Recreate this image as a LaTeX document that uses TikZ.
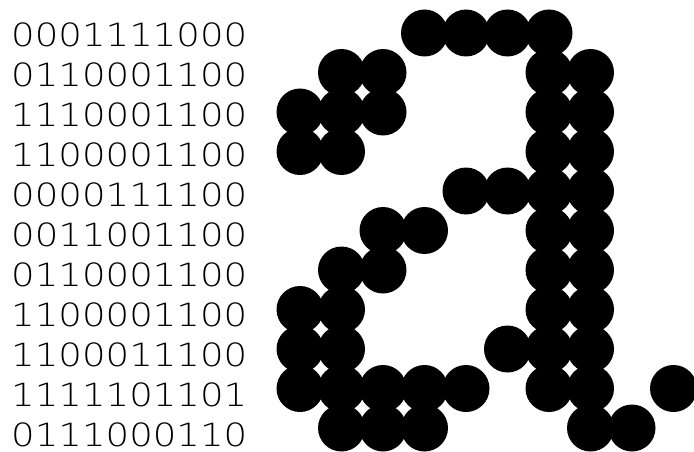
\documentclass[tikz,border=0pt]{standalone}
\usepackage{fontspec}
\newfontfamily\bitfont{DejaVu Sans}[UprightFont=* ExtraLight]

\begin{document}
\begin{tikzpicture}[x=1pt,y=-1pt,
    bits/.style={font=\bitfont\fontsize{32}{32}\selectfont,anchor=base west,
      inner sep=0pt,text depth=0pt,xscale=1.16,transform shape},
    pixel/.style={fill=black}]
  \useasboundingbox (0,0) rectangle (694,452);
  % rows of bits, with the columns that hold a 1
  \foreach \r/\bits/\cols in {0/0001111000/{3,4,5,6},1/0110001100/{1,2,6,7},
      2/1110001100/{0,1,2,6,7},3/1100001100/{0,1,6,7},4/0000111100/{4,5,6,7},
      5/0011001100/{2,3,6,7},6/0110001100/{1,2,6,7},7/1100001100/{0,1,6,7},
      8/1100011100/{0,1,5,6,7},9/1111101101/{0,1,2,3,4,6,7,9},
      10/0111000110/{1,2,3,7,8}}{
    \node[bits] (row\r) at (11,46.7+40*\r) {\bits};
    \foreach \c in \cols
      \fill[pixel] (300+41.5*\c,33+39.5*\r) circle (23.5pt);
  }
\end{tikzpicture}
\end{document}
